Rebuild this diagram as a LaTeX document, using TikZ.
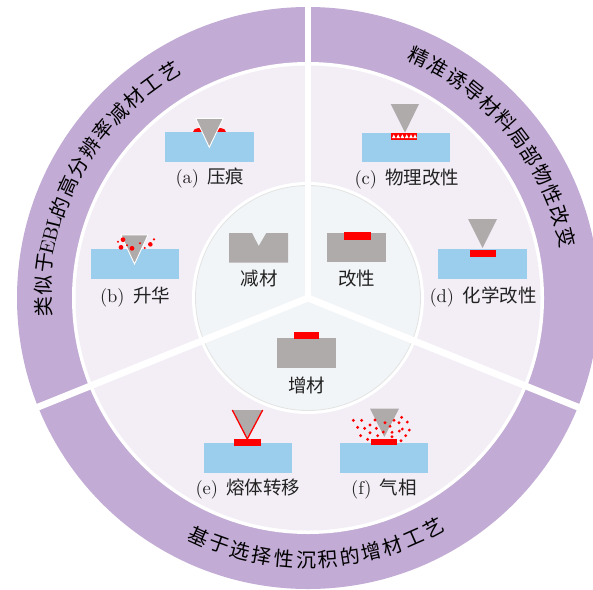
\documentclass[tikz,border=0pt]{standalone}
\usepackage{fontspec}
\usetikzlibrary{calc}
\newfontfamily\cjk{Noto Sans CJK SC}
\definecolor{bandc}{HTML}{C2ABD4}
\definecolor{midc}{HTML}{F3EEF6}
\definecolor{corec}{HTML}{F2F5F7}
\definecolor{corerim}{HTML}{E2E4E4}
\definecolor{substrate}{HTML}{9BCDEC}
\definecolor{tipc}{HTML}{AFABAB}
\definecolor{txt}{HTML}{222222}
\newcommand{\capgap}{\hspace{0.45em}}
\tikzset{
  x=1pt,y=-1pt,
  tipwhite/.style={fill=tipc,draw=white,line width=0.9pt},
  caption/.style={text=txt,scale=1.85,inner sep=0pt,anchor=center},
  corecaption/.style={text=txt,font=\cjk,scale=1.85,inner sep=0pt,anchor=center},
  arcchar/.style={text=black,font=\fontsize{20}{20}\cjk,inner sep=0pt,anchor=center},
  arclatin/.style={text=black,scale=2,inner sep=0pt,anchor=center},
  divider/.style={draw=white,line width=6.8pt}
}
\begin{document}
\begin{tikzpicture}
\useasboundingbox (0,0) rectangle (593,589);
\clip (0,0) rectangle (593,589);
\coordinate (o) at (308,298);

% concentric rings
\fill[bandc] (o) circle[radius=291];
\fill[white] (o) circle[radius=236];
\fill[midc] (o) circle[radius=232.5];
\fill[white] (o) circle[radius=116];
\fill[corec,draw=corerim,line width=0.8pt] (o) circle[radius=112.5];

% dividers between the three sectors
\coordinate (e1) at ($(o)+(0,-295)$);
\coordinate (e2) at ($(o)+(-273.5,110.5)$);
\coordinate (e3) at ($(o)+(273.5,110.5)$);
\draw[divider] (o) -- (e1);
\draw[divider] (o) -- (e2);
\draw[divider] (o) -- (e3);

% lettering set on the band
\foreach \ch/\a [count=\i] in {类/182,似/177.2,于/172.4,的/159.9,高/155.1,分/150.3,辨/145.5,率/140.7,减/135.9,材/131.1,工/126.3,艺/121.5}
  \node[arcchar,rotate=\a-90] (left\i) at ($(o)+({265*cos(\a)},{-265*sin(\a)})$) {\ch};
\node[arclatin,rotate=166.2-90] (leftebl) at ($(o)+({265*cos(166.2)},{-265*sin(166.2)})$) {EBL};
\foreach \ch/\a [count=\i] in {精/65.3,准/60.6,诱/55.9,导/51.2,材/46.5,料/41.8,局/37.1,部/32.4,物/27.7,性/23,改/18.2,变/13.3}
  \node[arcchar,rotate=\a-90] (right\i) at ($(o)+({265*cos(\a)},{-265*sin(\a)})$) {\ch};
\foreach \ch/\a [count=\i] in {基/245.4,于/250.2,选/255,择/259.9,性/264.7,沉/269.6,积/274.4,的/279.2,增/284.1,材/288.9,工/293.8,艺/298.6}
  \node[arcchar,rotate=\a+90] (bottom\i) at ($(o)+({262*cos(\a)},{-262*sin(\a)})$) {\ch};

% (a) indentation
\fill[red] (198.5,132) ellipse[x radius=5.5,y radius=4];
\fill[red] (220.5,132) ellipse[x radius=5.5,y radius=4];
\fill[substrate] (165,132) rectangle (254,162);
\draw[tipwhite] (195.7,118.3) -- (223.3,118.3) -- (209.3,147.3) -- cycle;
\node[caption] (capa) at (210,178) {(a)\capgap{\cjk 压痕}};

% (b) sublimation
\fill[substrate] (91,249) rectangle (179,279);
\draw[tipwhite] (121,235) -- (148,235) -- (134.5,264) -- cycle;
\foreach \x/\y/\r in {129/59/2.4,123/82/2.4,156/85/2.4,114/65/1.1,141/76/1.1,180/70/1.1,194/84/1.1,211/73/2.3,222/58/1.3}
  \fill[red] ({80+\x/3},{220+\y/3}) circle[radius=\r];
\node[caption] (capb) at (135,297) {(b)\capgap{\cjk 升华}};

% (c) physical modification
\fill[substrate] (362,133) rectangle (450,162);
\fill[tipc] (390.7,104) -- (419,104) -- (405,132.7) -- cycle;
\fill[red] (391,132.7) rectangle (417.3,140.3);
\foreach \x in {393.8,398.1,402.4,406.7,411,415}
  \fill[white] (\x-1.8,138) -- (\x+1.8,138) -- (\x,134.4) -- cycle;
\node[caption] (capc) at (407,179) {(c)\capgap{\cjk 物理改性}};

% (d) chemical modification
\fill[substrate] (438,249) rectangle (527,279);
\fill[tipc] (468,219) -- (497,219) -- (482.5,248) -- cycle;
\fill[red] (470,250) rectangle (496,257);
\node[caption] (capd) at (483,297) {(d)\capgap{\cjk 化学改性}};

% (e) melt transfer
\fill[substrate] (204,443) rectangle (292,473);
\fill[tipc] (232.3,410) -- (262.7,410) -- (247.3,439) -- cycle;
\draw[red,line width=1.3pt] (232.3,410) -- (247.3,439) -- (262.7,410);
\fill[red] (233.7,439) rectangle (260.7,445.7);
\node[caption] (cape) at (248,489) {(e)\capgap{\cjk 熔体转移}};

% (f) vapour phase
\fill[substrate] (340,443) rectangle (428,473);
\fill[tipc] (370,408.7) -- (399,408.7) -- (384.3,437) -- cycle;
\fill[red] (371,438.7) rectangle (397,444.7);
\foreach \x/\y in {70/61,95/61,83/82,104/85,120/75,135/60,139/85,120/98,92/107,113/118,143/107,160/96,165/68,180/79,192/61,207/68,215/52,232/66,217/87,208/93,238/90,186/97,186/110,227/107,213/122}
  \fill[red] ({330+\x/3},{400+\y/3}) circle[radius=1.6];
\node[caption] (capf) at (384,489) {(f)\capgap{\cjk 气相}};

% central process sketches
\fill[tipc] (229,233) -- (252,233) -- (258.7,246) -- (266.3,233) -- (288,233) -- (288,262.7) -- (229,262.7) -- cycle;
\node[corecaption] (corea) at (259,279) {减材};

\fill[tipc] (327,233) rectangle (386,261.7);
\fill[red] (344,232.3) rectangle (370.7,240);
\node[corecaption] (coreb) at (356.7,279) {改性};

\fill[tipc] (277,338) rectangle (336,367.7);
\fill[red] (293.7,332.3) rectangle (319.3,339);
\node[corecaption] (corec) at (306.5,385) {增材};
\end{tikzpicture}
\end{document}
